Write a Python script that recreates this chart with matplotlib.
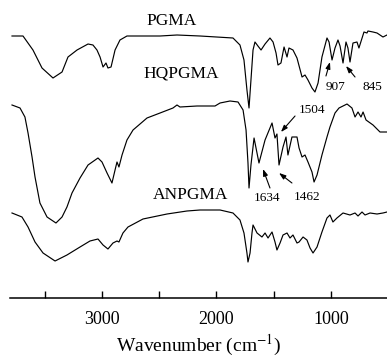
import matplotlib
matplotlib.use("Agg")
import matplotlib.pyplot as plt
from matplotlib.ticker import MultipleLocator

# ---- data (wavenumber in cm^-1, offset transmittance in arbitrary units) ----
pgma_wn = [3786, 3690, 3603, 3524, 3428, 3349, 3297, 3218, 3122, 3079, 3044, 3017, 2991, 2965,
           2948, 2921, 2886, 2843, 2782, 2493, 2345, 2144, 1856, 1795, 1760, 1734, 1716, 1699,
           1681, 1664, 1638, 1611, 1576, 1533, 1506, 1480, 1463, 1437, 1410, 1384, 1367, 1332,
           1297, 1253, 1227, 1201, 1166, 1140, 1113, 1079, 1035, 1017, 991, 965, 939, 921, 895,
           869, 852, 834, 808, 773, 756, 712, 686, 677, 633, 598, 546, 511]
pgma_t = [262, 262, 248, 230, 220, 226, 241, 248, 254, 253, 248, 241, 231, 235,
          230, 231, 248, 258, 262, 262, 263, 262, 260, 253, 238, 208, 190, 218,
          248, 256, 252, 248, 254, 260, 256, 245, 233, 235, 251, 241, 250, 248,
          240, 221, 223, 218, 210, 206, 215, 241, 260, 256, 238, 250, 258, 252, 235,
          256, 250, 236, 255, 256, 250, 266, 265, 267, 266, 265, 261, 263]

hq_wn = [3786, 3716, 3673, 3646, 3611, 3585, 3542, 3480, 3402, 3349, 3306, 3262, 3192, 3122,
         3035, 3000, 2956, 2913, 2886, 2869, 2852, 2825, 2782, 2729, 2607, 2493, 2380, 2345,
         2319, 2170, 2013, 1969, 1882, 1812, 1768, 1742, 1725, 1716, 1699, 1672, 1629, 1576,
         1515, 1489, 1472, 1454, 1419, 1393, 1376, 1341, 1297, 1279, 1253, 1227, 1201, 1166,
         1148, 1122, 1079, 1035, 1009, 965, 930, 860, 817, 790, 764, 738, 720, 694, 633, 572, 511]
hq_t = [193, 190, 181, 165, 141, 121, 95, 81, 75, 81, 91, 105, 120, 133,
        140, 136, 125, 115, 128, 136, 131, 143, 158, 168, 180, 185, 190, 193,
        191, 192, 192, 195, 197, 196, 188, 168, 135, 110, 133, 160, 135, 158,
        175, 160, 164, 133, 151, 161, 143, 161, 161, 150, 141, 143, 136, 126,
        116, 123, 143, 161, 171, 185, 190, 194, 190, 181, 186, 181, 186, 178, 173, 166, 166]

an_wn = [3786, 3699, 3646, 3585, 3515, 3410, 3306, 3192, 3105, 3035, 2991, 2948, 2904, 2869,
         2852, 2817, 2773, 2642, 2432, 2258, 2144, 1969, 1856, 1795, 1760, 1734, 1725, 1707,
         1690, 1681, 1646, 1603, 1576, 1550, 1515, 1489, 1472, 1445, 1419, 1384, 1358, 1332,
         1297, 1279, 1244, 1210, 1183, 1157, 1122, 1079, 1035, 1009, 983, 948, 895, 834, 790,
         764, 729, 703, 659, 598, 546, 511]
an_t = [85, 81, 71, 56, 45, 37, 43, 51, 57, 59, 53, 49, 55, 57,
        56, 65, 71, 79, 84, 87, 88, 88, 85, 78, 65, 45, 36, 45,
        65, 73, 65, 61, 65, 60, 66, 56, 48, 55, 63, 65, 60, 63,
        55, 56, 61, 58, 50, 45, 51, 66, 80, 83, 76, 80, 85, 83, 85,
        82, 86, 83, 85, 84, 85, 86]

series_names = ["PGMA", "HQPGMA", "ANPGMA"]
name_pos = [(2389, 277), (2310, 225), (2231, 103)]

peak_labels = ["907", "845", "1504", "1634", "1462"]
peak_text_pos = [(965, 211), (642, 211), (1166, 188), (1559, 100), (1210, 101)]
peak_arrow_tail = [(1044, 222), (790, 221), (1314, 182), (1533, 110), (1341, 115)]
peak_arrow_tip = [(1009, 236), (869, 232), (1437, 166), (1594, 129), (1454, 125)]

x_ticks = [3000, 2000, 1000]

# ---- figure ----
plt.rcParams['font.family'] = ['Liberation Serif', 'DejaVu Serif']
plt.rcParams['mathtext.fontset'] = 'stix'

fig = plt.figure(figsize=(3.87, 3.6), dpi=100)
ax = fig.add_axes([10.4 / 387, 62 / 360, (387.1 - 10.4) / 387, 298 / 360])

for wn, t in [(pgma_wn, pgma_t), (hq_wn, hq_t), (an_wn, an_t)]:
    ax.plot(wn, t, color='black', lw=0.85, solid_joinstyle='round')

ax.set_xlim(3800, 510)
ax.set_ylim(0, 298)

for name, (x, y) in zip(series_names, name_pos):
    ax.text(x, y, name, ha='center', va='center', fontsize=12.5)

for lab, tp, tail, tip in zip(peak_labels, peak_text_pos, peak_arrow_tail, peak_arrow_tip):
    ax.text(tp[0], tp[1], lab, ha='center', va='center', fontsize=9.5)
    ax.annotate('', xy=tip, xytext=tail,
                arrowprops=dict(arrowstyle='-|>,head_length=0.4,head_width=0.14',
                                color='black', lw=0.8, shrinkA=0, shrinkB=0))

for s in ['left', 'right', 'top']:
    ax.spines[s].set_visible(False)
ax.spines['bottom'].set_linewidth(1.1)
ax.set_yticks([])
ax.xaxis.set_major_locator(MultipleLocator(1000))
ax.xaxis.set_minor_locator(MultipleLocator(500))
ax.set_xticks(x_ticks)
ax.tick_params(axis='x', which='both', direction='in', length=5, width=1, labelsize=13, pad=9)
ax.set_xlabel('Wavenumber (cm$^{-1}$)', fontsize=14, labelpad=4)

fig.savefig('out.png', dpi=100)
